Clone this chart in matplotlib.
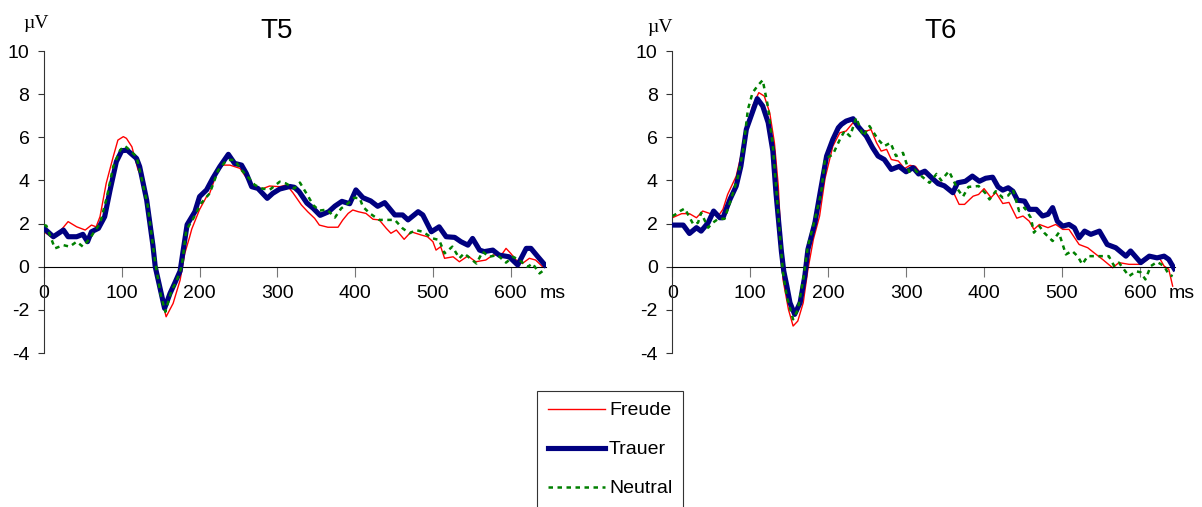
import matplotlib
matplotlib.use('Agg')
import matplotlib.pyplot as plt

plt.rcParams['font.family'] = ['Liberation Sans', 'DejaVu Sans']
plt.rcParams['axes.unicode_minus'] = False

# ERP curves, time in ms / amplitude in µV

# T5
t5_freude_t = [0, 12, 22, 31, 42, 53, 61, 67, 72, 80, 89, 95, 102, 106, 113, 121, 128, 143, 150, 157, 166,
               175, 181, 187, 190, 200, 209, 213, 222, 230, 239, 252, 262, 273, 282, 290, 303, 312, 320, 331,
               339, 348, 354, 365, 378, 384, 391, 397, 404, 414, 423, 431, 440, 446, 453, 463, 472, 485, 493,
               500, 504, 510, 515, 526, 534, 545, 555, 568, 577, 588, 594, 600, 607, 615, 624, 632, 641]
t5_freude_v = [1.62, 1.31, 1.7, 2.09, 1.85, 1.70, 1.93, 1.85, 2.32, 3.87, 5.1, 5.87, 6.03, 5.95, 5.56, 4.48,
               4.02, 0.1, -1.3, -2.32, -1.70, -0.62, 0.62, 1.35, 1.75, 2.65, 3.25, 3.40, 4.33, 4.71, 4.71,
               4.56, 4.02, 3.63, 3.63, 3.74, 3.71, 3.79, 3.43, 2.86, 2.55, 2.24, 1.93, 1.83, 1.83, 2.16, 2.47,
               2.63, 2.55, 2.47, 2.2, 2.17, 1.78, 1.55, 1.70, 1.27, 1.62, 1.47, 1.39, 1.16, 0.77, 0.93, 0.39,
               0.46, 0.23, 0.50, 0.23, 0.31, 0.54, 0.54, 0.85, 0.62, 0.31, 0.15, 0.39, 0.31, 0.0]

t5_trauer_t = [0, 12, 25, 31, 42, 50, 56, 61, 70, 78, 85, 93, 100, 107, 119, 123, 132, 140, 143, 155, 162,
               168, 175, 179, 184, 194, 200, 209, 217, 226, 237, 245, 254, 260, 267, 275, 287, 294, 303, 316,
               322, 328, 338, 346, 355, 366, 374, 383, 393, 401, 410, 420, 429, 438, 451, 461, 468, 481, 487,
               498, 508, 517, 528, 536, 545, 551, 560, 566, 577, 585, 598, 609, 620, 626, 635, 644]
t5_trauer_v = [1.78, 1.39, 1.70, 1.39, 1.39, 1.5, 1.16, 1.62, 1.78, 2.32, 3.56, 4.87, 5.38, 5.4, 5.02, 4.64,
               3.09, 1.0, 0.0, -1.93, -1.24, -0.77, -0.2, 0.77, 1.95, 2.55, 3.25, 3.56, 4.1, 4.64, 5.21, 4.79,
               4.71, 4.33, 3.71, 3.63, 3.17, 3.40, 3.6, 3.72, 3.68, 3.48, 2.95, 2.71, 2.38, 2.55, 2.81, 3.03,
               2.92, 3.56, 3.2, 3.05, 2.8, 2.97, 2.40, 2.40, 2.17, 2.55, 2.40, 1.62, 1.85, 1.39, 1.36, 1.16,
               1.0, 1.31, 0.77, 0.70, 0.77, 0.54, 0.46, 0.08, 0.85, 0.85, 0.46, 0.08]

t5_neutral_t = [0, 3, 14, 25, 33, 42, 50, 59, 66, 72, 81, 89, 98, 104, 110, 119, 125, 133, 143, 150, 156,
                164, 170, 177, 183, 192, 202, 213, 224, 235, 245, 254, 262, 271, 280, 290, 303, 311, 322, 329,
                339, 346, 354, 364, 374, 382, 391, 399, 406, 410, 419, 431, 444, 451, 461, 470, 478, 487, 500,
                508, 515, 525, 534, 540, 556, 564, 572, 583, 594, 603, 611, 622, 628, 637, 643]
t5_neutral_v = [1.93, 1.9, 0.85, 1.0, 0.93, 1.16, 0.93, 1.31, 1.70, 2.0, 3.25, 4.64, 5.41, 5.6, 5.41, 5.1,
                4.17, 2.9, 0.2, -1.3, -2.09, -1.1, -0.70, 0.0, 1.70, 2.24, 2.94, 3.40, 4.48, 4.95, 4.95, 4.48,
                4.17, 3.79, 3.63, 3.56, 3.94, 3.86, 3.63, 3.9, 3.3, 2.86, 2.6, 2.65, 2.28, 2.7, 2.94, 3.2,
                3.17, 2.78, 2.47, 2.17, 2.17, 2.17, 1.78, 1.55, 1.70, 1.62, 1.31, 1.24, 0.62, 0.93, 0.39,
                0.62, 0.15, 0.70, 0.46, 0.54, 0.19, 0.46, 0.31, 0.0, 0.15, -0.31, -0.15]

# T6
t6_freude_t = [0, 12, 22, 31, 39, 48, 59, 65, 71, 82, 88, 95, 103, 111, 118, 125, 131, 136, 142, 149, 155,
               161, 168, 174, 181, 189, 196, 206, 215, 223, 232, 240, 249, 255, 262, 268, 275, 281, 290, 298,
               305, 312, 318, 324, 332, 339, 347, 356, 362, 368, 375, 381, 386, 393, 400, 409, 415, 424, 432,
               442, 450, 458, 464, 471, 482, 492, 501, 509, 522, 533, 541, 552, 565, 573, 586, 601, 610, 616,
               625, 631, 637, 642]
t6_freude_v = [2.27, 2.46, 2.46, 2.27, 2.58, 2.47, 2.35, 2.66, 3.35, 4.20, 5.13, 6.37, 7.45, 8.07, 7.91, 7.14,
               5.75, 3.74, -0.59, -1.98, -2.75, -2.52, -1.67, -0.13, 1.27, 2.35, 4.1, 5.59, 6.21, 6.29, 6.68,
               6.36, 6.29, 6.36, 5.75, 5.36, 5.44, 4.97, 4.9, 4.55, 4.7, 4.65, 4.36, 4.3, 4.2, 4.0, 3.85, 3.62,
               3.35, 2.89, 2.89, 3.1, 3.27, 3.35, 3.62, 3.2, 3.45, 2.93, 2.98, 2.25, 2.35, 2.11, 1.73, 1.96,
               1.81, 1.96, 1.73, 1.73, 1.03, 0.88, 0.65, 0.34, -0.05, 0.19, 0.11, 0.11, 0.34, 0.49, 0.41, 0.03,
               -0.12, -0.90]

t6_trauer_t = [0, 14, 22, 31, 37, 46, 53, 61, 65, 74, 82, 88, 95, 101, 109, 116, 123, 129, 133, 140, 143,
               147, 151, 157, 164, 170, 174, 183, 190, 198, 206, 213, 217, 223, 232, 238, 249, 257, 264, 272,
               281, 291, 300, 309, 316, 324, 332, 341, 349, 360, 366, 376, 385, 394, 402, 411, 418, 424, 431,
               437, 443, 452, 458, 467, 475, 482, 488, 494, 501, 509, 516, 522, 529, 537, 548, 558, 569, 582,
               588, 601, 612, 622, 631, 637, 644]
t6_trauer_v = [1.93, 1.93, 1.54, 1.81, 1.65, 2.04, 2.58, 2.27, 2.27, 3.12, 3.74, 4.66, 6.37, 6.98, 7.79, 7.45,
               6.68, 5.36, 3.43, 0.7, -0.2, -0.9, -1.67, -2.21, -1.67, -0.44, 0.80, 2.04, 3.5, 5.13, 5.9, 6.44,
               6.6, 6.75, 6.86, 6.52, 6.05, 5.52, 5.13, 4.97, 4.51, 4.65, 4.4, 4.59, 4.3, 4.43, 4.15, 3.85,
               3.75, 3.43, 3.89, 3.96, 4.2, 3.96, 4.1, 4.15, 3.7, 3.55, 3.66, 3.5, 3.08, 3.04, 2.66, 2.66,
               2.35, 2.43, 2.74, 2.11, 1.88, 1.96, 1.80, 1.34, 1.65, 1.50, 1.65, 1.03, 0.88, 0.49, 0.73, 0.19,
               0.49, 0.41, 0.49, 0.34, -0.09]

t6_neutral_t = [0, 3, 10, 16, 27, 33, 37, 46, 52, 59, 67, 74, 84, 91, 97, 103, 110, 116, 123, 129, 133, 142,
                147, 155, 161, 168, 174, 183, 191, 196, 206, 215, 221, 228, 236, 245, 253, 264, 272, 280, 287,
                296, 304, 311, 317, 330, 339, 345, 355, 366, 373, 380, 393, 402, 407, 415, 424, 431, 437, 445,
                452, 460, 464, 471, 477, 488, 496, 505, 513, 520, 526, 533, 543, 552, 560, 567, 573, 586, 595,
                601, 607, 614, 622, 631, 637, 642]
t6_neutral_v = [2.35, 2.4, 2.58, 2.7, 1.96, 2.04, 2.5, 1.81, 2.04, 2.22, 2.22, 2.97, 4.13, 5.44, 7.29, 8.07,
                8.41, 8.65, 7.37, 5.59, 3.74, -0.28, -1.4, -2.44, -2.0, -0.59, 0.96, 2.20, 3.43, 5.0, 5.2, 5.9,
                6.29, 6.05, 6.91, 6.05, 6.52, 5.9, 5.59, 5.75, 5.13, 5.28, 4.4, 4.5, 4.28, 3.89, 4.3, 4.0,
                4.43, 3.6, 3.25, 3.7, 3.74, 3.4, 3.12, 3.5, 3.2, 3.3, 3.58, 2.58, 2.74, 2.27, 1.58, 1.88, 1.58,
                1.19, 1.58, 0.57, 0.73, 0.49, 0.11, 0.49, 0.49, 0.49, 0.49, 0.03, 0.19, -0.44, -0.21, -0.26,
                -0.59, 0.03, 0.22, 0.03, -0.36, -0.44]

x_ticks = [0, 100, 200, 300, 400, 500, 600]
y_ticks = [-4, -2, 0, 2, 4, 6, 8, 10]
labels = ['Freude', 'Trauer', 'Neutral']

fig = plt.figure(figsize=(12.02, 5.07), dpi=100)
W, H = 1202.0, 507.0


def draw_panel(ax, freude, trauer, neutral):
    l1, = ax.plot(freude[0], freude[1], color='#ff0000', lw=1.0, zorder=2)
    l2, = ax.plot(trauer[0], trauer[1], color='#000080', lw=3.7, zorder=3, solid_joinstyle='round')
    l3, = ax.plot(neutral[0], neutral[1], color='#008000', lw=1.8, ls=(0, (1.8, 1.8)), zorder=4)

    ax.set_xlim(0, 645)
    ax.set_ylim(-4, 10)
    ax.spines['top'].set_visible(False)
    ax.spines['right'].set_visible(False)
    ax.spines['bottom'].set_position(('data', 0))
    ax.spines['left'].set_color('#333333')
    ax.set_xticks(x_ticks)
    ax.set_yticks(y_ticks)
    ax.tick_params(axis='x', direction='out', length=7, pad=6, labelsize=14, color='#777777')
    ax.tick_params(axis='y', direction='out', length=4.5, pad=6, labelsize=14, color='#333333')
    ax.annotate('ms', xy=(637, 0), xycoords='data', xytext=(0, -13), textcoords='offset points',
                ha='left', va='top', fontsize=14)
    return [l1, l2, l3]


ax1 = fig.add_axes([44 / W, 1 - 353 / H, 501.7 / W, 302 / H])
handles = draw_panel(ax1, (t5_freude_t, t5_freude_v), (t5_trauer_t, t5_trauer_v),
                     (t5_neutral_t, t5_neutral_v))

ax2 = fig.add_axes([672.3 / W, 1 - 353 / H, 502.7 / W, 302 / H])
draw_panel(ax2, (t6_freude_t, t6_freude_v), (t6_trauer_t, t6_trauer_v),
           (t6_neutral_t, t6_neutral_v))

# titles and unit labels
fig.text(277 / W, 1 - 31 / H, 'T5', ha='center', va='center', fontsize=20)
fig.text(941 / W, 1 - 31 / H, 'T6', ha='center', va='center', fontsize=20)
fig.text(36 / W, 1 - 23 / H, 'µV', ha='center', va='center', fontsize=14, family='Liberation Serif')
fig.text(660 / W, 1 - 27 / H, 'µV', ha='center', va='center', fontsize=14, family='Liberation Serif')

leg = fig.legend(handles, labels, loc='upper left', bbox_to_anchor=(537 / W, 1 - 391 / H),
                 borderaxespad=0, fancybox=False, edgecolor='#333333', framealpha=1, fontsize=14,
                 handlelength=2.95, handletextpad=0.2, labelspacing=1.1, borderpad=0.55)
leg.get_frame().set_linewidth(0.8)

fig.savefig('out.png', dpi=100)
